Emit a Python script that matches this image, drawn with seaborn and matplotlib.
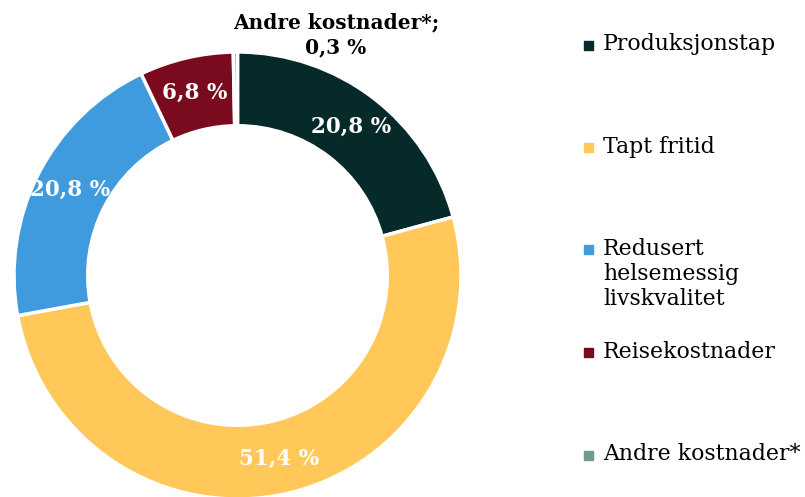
import numpy as np
import matplotlib
matplotlib.use("Agg")
import matplotlib.pyplot as plt
import matplotlib.patches as mpatches
import seaborn as sns

# data
kategorier = ["Produksjonstap", "Tapt fritid", "Redusert\nhelsemessig\nlivskvalitet",
              "Reisekostnader", "Andre kostnader*"]
andel = [20.8, 51.4, 20.8, 6.8, 0.3]
etiketter = ["20,8 %", "51,4 %", "20,8 %", "6,8 %", "0,3 %"]
farger = ["#06292a", "#ffc858", "#3f9bdd", "#7a0a1e", "#6f9c8f"]

sns.set_style("white")
plt.rcParams['font.family'] = ['DejaVu Serif']

fig = plt.figure(figsize=(8.05, 4.97), dpi=100)
W, H = 805, 497
R = 223.5
cx, cy = 237.5, 275.5
ax = fig.add_axes([(cx - R) / W, (H - cy - R) / H, 2 * R / W, 2 * R / H])

wedges, _ = ax.pie(andel, colors=sns.color_palette(farger), startangle=90,
                   counterclock=False, radius=1,
                   wedgeprops=dict(width=0.33, edgecolor="white", linewidth=2.5))
ax.set_xlim(-1, 1)
ax.set_ylim(-1, 1)
ax.set_aspect("equal")
ax.axis("off")

# labels in the ring (not the tiny last slice)
for w, lab in zip(wedges[:-1], etiketter[:-1]):
    ang = np.deg2rad((w.theta1 + w.theta2) / 2)
    r = 0.84
    ax.text(r * np.cos(ang), r * np.sin(ang), lab, ha="center", va="center",
            color="white", fontsize=15.5, fontweight="bold")

# label for the tiny slice, above the ring
ax.text(0.44, 1.075, "Andre kostnader*;\n" + etiketter[-1], ha="center", va="center",
        fontsize=14.5, fontweight="bold", color="black", clip_on=False,
        linespacing=1.3)

# legend, manual
y0 = 45
for i, (navn, f) in enumerate(zip(kategorier, farger)):
    y = y0 + i * 102.5
    fig.patches.append(mpatches.Rectangle(((588 - 4.5) / W, 1 - (y + 4.5) / H), 9 / W, 9 / H,
                                          transform=fig.transFigure, color=f, figure=fig))
    fig.text(603 / W, 1 - (y - 12) / H, navn, ha="left", va="top",
             fontsize=15.8, color="black", linespacing=1.18)

fig.savefig("out.png", dpi=100)
